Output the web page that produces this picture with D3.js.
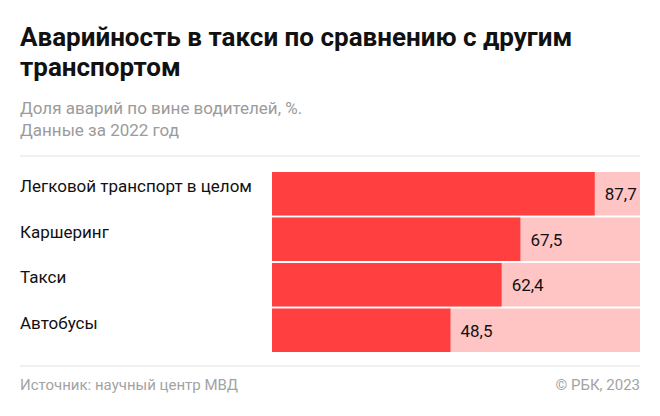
<!DOCTYPE html>
<html><head><meta charset="utf-8">
<script src="https://cdn.jsdelivr.net/npm/d3@7"></script>
<style>body{margin:0;background:#fff}text{font-family:Roboto,sans-serif}</style>
</head><body><div id="chart"></div>
<script>
var categories = ['Легковой транспорт в целом', 'Каршеринг', 'Такси', 'Автобусы'];
var values = [87.7, 67.5, 62.4, 48.5];

var W = 660, H = 416;
var svg = d3.select('#chart').append('svg').attr('width', W).attr('height', H);

svg.append('text').attr('x', 20).attr('y', 46).attr('font-size', 26).attr('font-weight', 700)
    .attr('fill', '#111').text('Аварийность в такси по сравнению с другим');
svg.append('text').attr('x', 20).attr('y', 76).attr('font-size', 26).attr('font-weight', 700)
    .attr('fill', '#111').text('транспортом');
svg.append('text').attr('x', 20).attr('y', 114).attr('font-size', 17).attr('fill', '#9b9b9b')
    .text('Доля аварий по вине водителей, %.');
svg.append('text').attr('x', 20).attr('y', 136).attr('font-size', 17).attr('fill', '#9b9b9b')
    .text('Данные за 2022 год');

svg.append('line').attr('x1', 20).attr('x2', 640).attr('y1', 156).attr('y2', 156)
    .attr('stroke', '#e3e3e3');
svg.append('line').attr('x1', 20).attr('x2', 640).attr('y1', 366).attr('y2', 366)
    .attr('stroke', '#e3e3e3');

var x = d3.scaleLinear().domain([0, 100]).range([272, 640]);
var y = d3.scaleBand().domain(categories).range([172, 352]).paddingInner(0.045);

var rows = svg.selectAll('g.row').data(categories).enter().append('g').attr('class', 'row');
rows.append('rect').attr('x', x(0)).attr('y', d => y(d)).attr('width', x(100) - x(0))
    .attr('height', y.bandwidth()).attr('fill', '#ffc5c5');
rows.append('rect').attr('x', x(0)).attr('y', d => y(d)).attr('width', (d, i) => x(values[i]) - x(0))
    .attr('height', y.bandwidth()).attr('fill', '#ff3f40');
rows.append('text').attr('x', 20).attr('y', d => y(d) + 20).attr('font-size', 17).attr('fill', '#111')
    .text(d => d);
rows.append('text').attr('x', (d, i) => x(values[i]) + 10).attr('y', d => y(d) + 28)
    .attr('font-size', 17).attr('fill', '#111')
    .text((d, i) => String(values[i]).replace('.', ','));

svg.append('text').attr('x', 20).attr('y', 390).attr('font-size', 15).attr('fill', '#a3a3a3')
    .text('Источник: научный центр МВД');
svg.append('text').attr('x', 640).attr('y', 390).attr('font-size', 15).attr('fill', '#a3a3a3')
    .attr('text-anchor', 'end').text('© РБК, 2023');
</script></body></html>
